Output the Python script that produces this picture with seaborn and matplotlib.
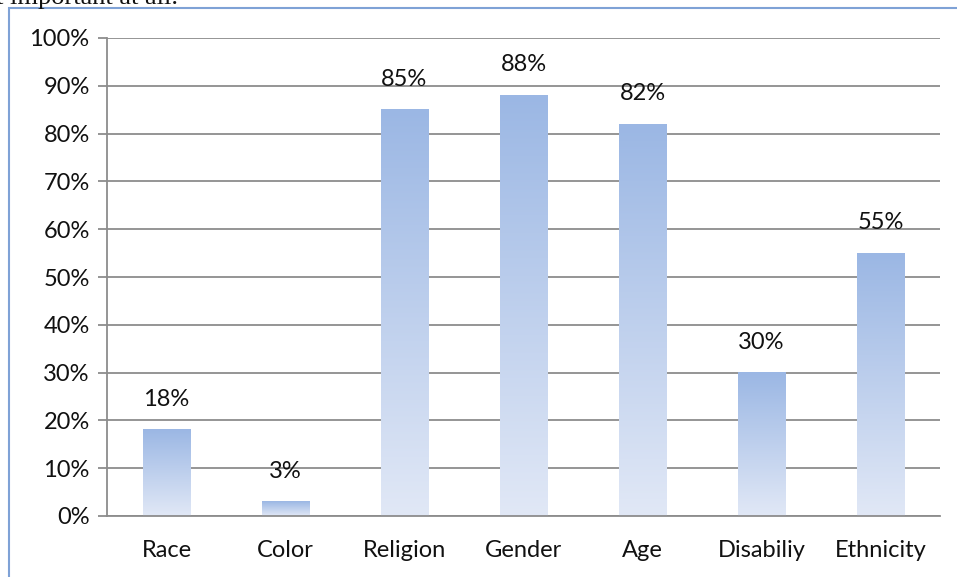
import numpy as np
import pandas as pd
import matplotlib
matplotlib.use("Agg")
import matplotlib.pyplot as plt
from matplotlib.patches import Rectangle
from matplotlib.colors import LinearSegmentedColormap
from matplotlib.ticker import PercentFormatter
import seaborn as sns

# data
categories = ["Race", "Color", "Religion", "Gender", "Age", "Disabiliy", "Ethnicity"]
shares = [0.18, 0.03, 0.85, 0.88, 0.82, 0.30, 0.55]

sns.set_theme(style="white")
plt.rcParams["font.family"] = ["Lato", "DejaVu Sans"]

df = pd.DataFrame({"category": categories, "share": shares})

fig = plt.figure(figsize=(9.57, 5.77), dpi=100)
ax = fig.add_axes([107 / 957, 1 - 516 / 577, 833 / 957, 478 / 577])

sns.barplot(data=df, x="category", y="share", width=0.4, color="#9BB7E4", ax=ax)

# gradient fill for each bar: blue on top fading to pale at the bottom
grad_cmap = LinearSegmentedColormap.from_list("bar_grad", ["#E1E8F6", "#9BB7E4"])
grad = np.linspace(0, 1, 256).reshape(-1, 1)
for p in ax.patches:
    x0, y0 = p.get_x(), p.get_y()
    w, h = p.get_width(), p.get_height()
    ax.imshow(grad, extent=[x0, x0 + w, y0, y0 + h], origin="lower",
              aspect="auto", cmap=grad_cmap, zorder=2)
    p.set_facecolor("none")
    p.set_edgecolor("none")

for i, v in enumerate(shares):
    ax.annotate(f"{int(round(v * 100))}%", (i, v), xytext=(0, 22), textcoords="offset points",
                ha="center", va="center", fontsize=17, color="#111111")

ax.set_xlim(-0.5, len(categories) - 0.5)
ax.set_ylim(0, 1)
ax.set_yticks(np.arange(0, 1.01, 0.1))
ax.yaxis.set_major_formatter(PercentFormatter(1.0, decimals=0))
ax.set_xticks(np.arange(-0.5, len(categories), 1), minor=True)

ax.set_axisbelow(True)
ax.grid(axis="y", color="#8C8C8C", linewidth=1.3)
ax.grid(axis="x", visible=False)

for side in ["top", "right"]:
    ax.spines[side].set_visible(False)
for side in ["left", "bottom"]:
    ax.spines[side].set_color("#8C8C8C")
    ax.spines[side].set_linewidth(1.3)

ax.tick_params(axis="x", which="major", length=0, pad=17, labelsize=17, labelcolor="#111111")
ax.tick_params(axis="x", which="minor", length=7.5, width=1.3, color="#8C8C8C", direction="out")
ax.tick_params(axis="y", length=6.5, width=1.3, color="#8C8C8C", pad=6, labelsize=17,
               labelcolor="#111111", left=True)
ax.set_xlabel("")
ax.set_ylabel("")

# surrounding frame and the clipped caption line above it
fig.patches.append(Rectangle((9 / 957, -0.05), 1.0, 1 - 8 / 577 + 0.05, transform=fig.transFigure,
                             fill=False, edgecolor="#7FA2D6", linewidth=1.5))
fig.text(-0.004, 1 - 4 / 577, "t important at all.", family=["Liberation Serif", "DejaVu Serif"],
         fontsize=19, va="baseline", ha="left", color="#111111")

fig.savefig("out.png", dpi=100)
